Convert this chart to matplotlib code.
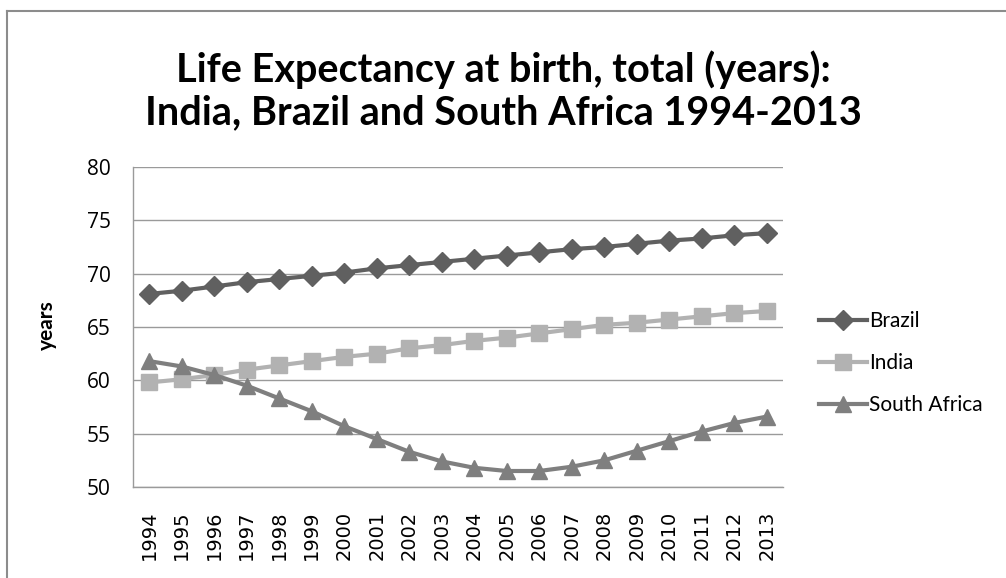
import numpy as np
import matplotlib
matplotlib.use('Agg')
import matplotlib.pyplot as plt
from matplotlib.lines import Line2D

years = [str(y) for y in range(1994, 2014)]
brazil = [68.1, 68.4, 68.8, 69.2, 69.5, 69.8, 70.1, 70.5, 70.8, 71.1,
          71.4, 71.7, 72.0, 72.3, 72.5, 72.8, 73.1, 73.3, 73.6, 73.8]
india = [59.8, 60.1, 60.5, 61.0, 61.4, 61.8, 62.2, 62.5, 63.0, 63.3,
         63.7, 64.0, 64.4, 64.8, 65.2, 65.4, 65.7, 66.0, 66.3, 66.5]
south_africa = [61.8, 61.3, 60.5, 59.5, 58.3, 57.1, 55.7, 54.5, 53.3, 52.4,
                51.8, 51.5, 51.5, 51.9, 52.5, 53.4, 54.3, 55.2, 56.0, 56.6]
series_names = ['Brazil', 'India', 'South Africa']

fig = plt.figure(figsize=(10.06, 5.78), dpi=100)
ax = fig.add_axes([133 / 1006, 1 - 487 / 578, 650 / 1006, 320 / 578])

x = np.arange(len(years))
styles = [('#606060', 'D', 10.5), ('#b2b2b2', 's', 11), ('#7f7f7f', '^', 11)]
for vals, (col, mk, ms), name in zip([brazil, india, south_africa], styles, series_names):
    ax.plot(x, vals, color=col, lw=3, marker=mk, markersize=ms,
            markeredgecolor=col, label=name)

ax.set_xlim(-0.5, len(years) - 0.5)
ax.set_ylim(50, 80)
ax.set_yticks(range(50, 81, 5))
ax.set_xticks(x)
ax.set_xticklabels(years, rotation=90, fontsize=14, family='DejaVu Sans')
for lbl in ax.get_yticklabels():
    lbl.set_family('Open Sans')
    lbl.set_fontsize(15)
ax.tick_params(axis='both', length=0)
ax.tick_params(axis='y', pad=16)
ax.tick_params(axis='x', pad=17)
ax.grid(axis='y', color='#9a9a9a', lw=1)
ax.set_axisbelow(True)
for s in ['top', 'right']:
    ax.spines[s].set_visible(False)
for s in ['left', 'bottom']:
    ax.spines[s].set_color('#9a9a9a')
    ax.spines[s].set_linewidth(1)

fig.text(47 / 1006, 1 - 325 / 578, 'years', rotation=90, ha='center', va='center',
         fontsize=15, fontweight='bold', family='Lato')

fig.text(0.5, 1 - 70 / 578, 'Life Expectancy at birth, total (years):',
         ha='center', va='center', fontsize=28.5, fontweight='bold', family='Lato')
fig.text(0.5, 1 - 113 / 578, 'India, Brazil and South Africa 1994-2013',
         ha='center', va='center', fontsize=28.5, fontweight='bold', family='Lato')

leg = fig.legend(loc='center left', bbox_to_anchor=(800 / 1006, 1 - 363 / 578),
                 frameon=False, prop={'family': 'Lato', 'size': 15},
                 handlelength=2.3, handletextpad=0.1, labelspacing=1.05)

# chart area border
fig.add_artist(Line2D([7 / 1006, 7 / 1006], [0, 1 - 11 / 578], color='#8c8c8c', lw=1.5,
                      transform=fig.transFigure))
fig.add_artist(Line2D([7 / 1006, 1], [1 - 11 / 578, 1 - 11 / 578], color='#8c8c8c', lw=1.5,
                      transform=fig.transFigure))

plt.savefig('out.png', dpi=100)
